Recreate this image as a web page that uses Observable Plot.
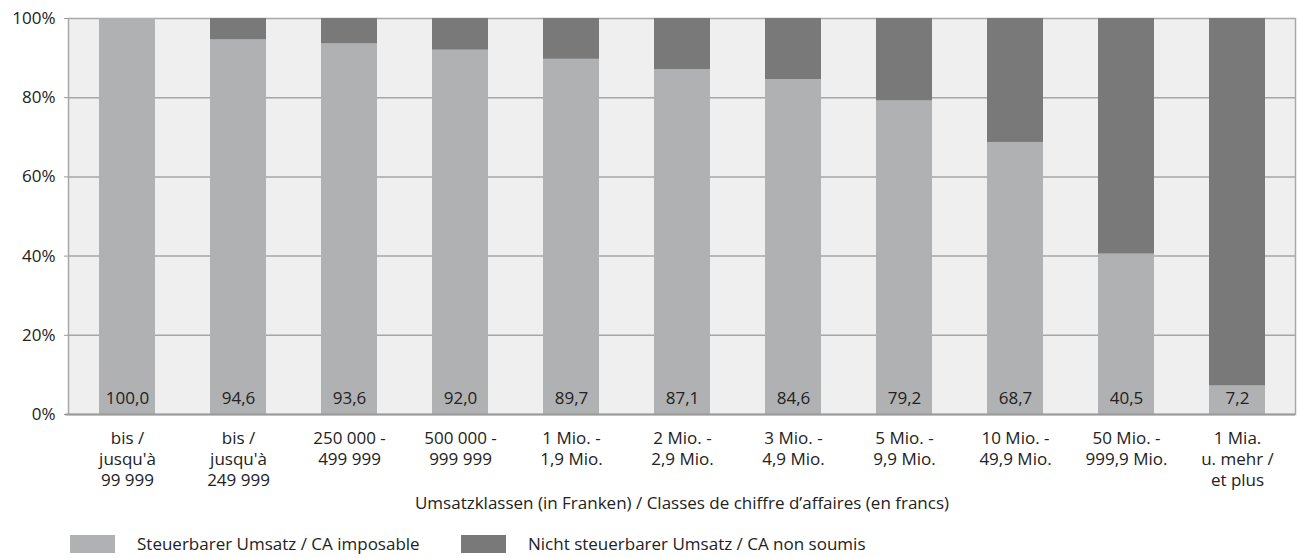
<!DOCTYPE html>
<html>
<head>
<meta charset="utf-8">
<script src="https://cdn.jsdelivr.net/npm/d3@7"></script>
<script src="https://cdn.jsdelivr.net/npm/@observablehq/plot@0.6"></script>
<style>
  body { margin: 0; background: #fff; font-family: "Open Sans", sans-serif; overflow: hidden; }
  #chart svg { display: block; }
  #legend { position: relative; height: 28px; font-size: 17px; line-height: 20px; color: #222; }
  .item { position: absolute; top: 4px; display: flex; align-items: center; white-space: nowrap; }
  .sw { width: 45px; height: 18px; margin-right: 22px; }
</style>
</head>
<body>
<div id="chart"></div>
<div id="legend">
  <div class="item" style="left:70px"><div class="sw" style="background:#b0b1b2"></div><span>Steuerbarer Umsatz / CA imposable</span></div>
  <div class="item" style="left:461px"><div class="sw" style="background:#797979"></div><span>Nicht steuerbarer Umsatz / CA non soumis</span></div>
</div>
<script>
const categories = [
  "bis /\njusqu'à\n99 999",
  "bis /\njusqu'à\n249 999",
  "250 000 -\n499 999",
  "500 000 -\n999 999",
  "1 Mio. -\n1,9 Mio.",
  "2 Mio. -\n2,9 Mio.",
  "3 Mio. -\n4,9 Mio.",
  "5 Mio. -\n9,9 Mio.",
  "10 Mio. -\n49,9 Mio.",
  "50 Mio. -\n999,9 Mio.",
  "1 Mia.\nu. mehr /\net plus"
];
const taxable = [100.0, 94.6, 93.6, 92.0, 89.7, 87.1, 84.6, 79.2, 68.7, 40.5, 7.2];
const nonTaxable = [0.0, 5.4, 6.4, 8.0, 10.3, 12.9, 15.4, 20.8, 31.3, 59.5, 92.8];
const seriesNames = ["Steuerbarer Umsatz / CA imposable", "Nicht steuerbarer Umsatz / CA non soumis"];
const yTicks = [0, 20, 40, 60, 80, 100];
const gridTicks = [20, 40, 60, 80];

const rows = [];
categories.forEach((c, i) => {
  rows.push({cat: c, series: seriesNames[0], value: taxable[i], order: 0});
  rows.push({cat: c, series: seriesNames[1], value: nonTaxable[i], order: 1});
});
const labels = categories.map((c, i) => ({cat: c, value: taxable[i]}));

const chart = Plot.plot({
  width: 1299,
  height: 530,
  marginTop: 18,
  marginLeft: 68,
  marginRight: 4,
  marginBottom: 116,
  style: {fontFamily: "'Open Sans', sans-serif", fontSize: "17px", color: "#222", background: "transparent"},
  x: {domain: categories, paddingInner: 0.5, paddingOuter: 0.25, label: null},
  y: {domain: [0, 100], label: null},
  color: {domain: seriesNames, range: ["#b0b1b2", "#797979"]},
  marks: [
    Plot.frame({fill: "#efefef", stroke: "#a9a9a9", strokeWidth: 1.5}),
    Plot.ruleY(gridTicks, {stroke: "#a6a6a6", strokeWidth: 1.5}),
    Plot.barY(rows, Plot.stackY({order: "order"}, {x: "cat", y: "value", fill: "series"})),
    Plot.text(labels, {x: "cat", y: 0, text: d => d.value.toFixed(1).replace(".", ","), dy: -16, fontSize: 17, fill: "#222"}),
    Plot.axisY({ticks: yTicks, tickFormat: d => d + "%", tickSize: 4, tickPadding: 9, stroke: "#999", fontSize: 17, fill: "#222"}),
    Plot.axisX({tickSize: 0, tickPadding: 15, fontSize: 17, lineHeight: 1.23, fill: "#222", textAnchor: "middle"}),
    Plot.ruleY([0], {stroke: "#9a9a9a", strokeWidth: 2, insetLeft: -3}),
    Plot.text(["Umsatzklassen (in Franken) / Classes de chiffre d’affaires (en francs)"], {frameAnchor: "bottom", dy: 94, fontSize: 17, fill: "#222"})
  ]
});
document.getElementById("chart").appendChild(chart);
</script>
</body>
</html>
